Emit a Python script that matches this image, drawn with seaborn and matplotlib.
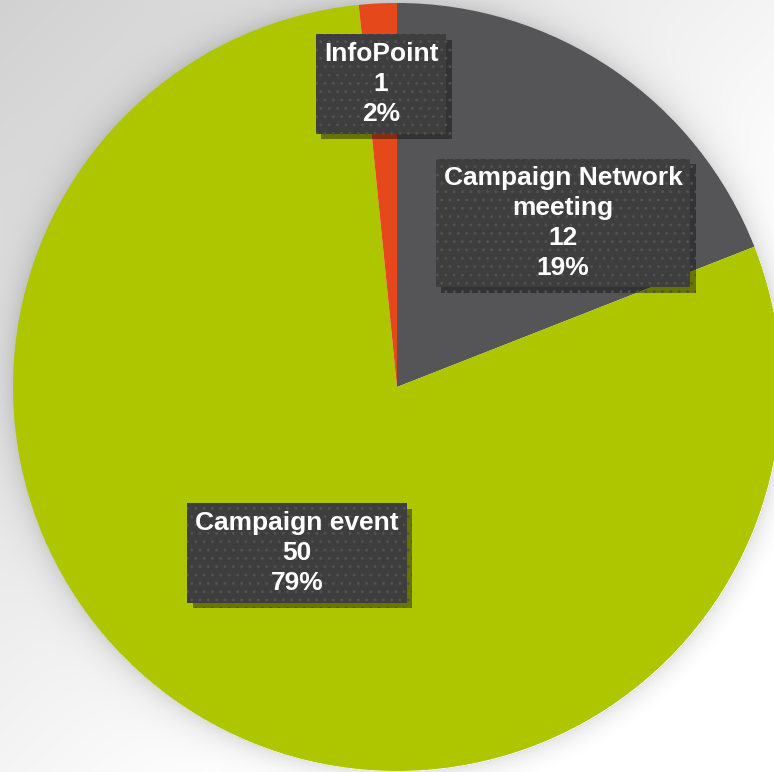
import numpy as np
import matplotlib
matplotlib.use("Agg")
import matplotlib.pyplot as plt
import matplotlib.patheffects as pe
import seaborn as sns

# data
categories = ["Campaign Network\nmeeting", "Campaign event", "InfoPoint"]
counts = [12, 50, 1]
slice_colors = ["#555557", "#aec600", "#e5481b"]
# label box centres as offsets (px) from the pie centre, y up
label_offsets = [(166, 164), (-100, -166), (-16, 303)]

W, H = 774, 772
cx, cy, R = 397, H - 387, 384

sns.set_theme(style="white")
plt.rcParams["font.family"] = ["Liberation Sans", "DejaVu Sans"]
plt.rcParams["hatch.linewidth"] = 0.9

fig = plt.figure(figsize=(W / 100, H / 100), dpi=100)
ax = fig.add_axes([0, 0, 1, 1])

# background: diagonal grey gradient + soft shadow round the pie
yy, xx = np.mgrid[0:H, 0:W]
t = (xx / W + yy / H) / 2
bg = 0.82 + 0.20 * np.clip(t * 1.4, 0, 1)
d = np.hypot(xx - cx, yy - 387) - R
shade = np.where(d > 0, np.exp(-d / 14.0), 0) * 0.12
bg = np.clip(bg - shade, 0, 1)
ax.imshow(np.dstack([bg, bg, bg]), extent=(0, W, 0, H), origin="upper", zorder=0)

total = sum(counts)
wedges, _ = ax.pie(
    counts,
    colors=slice_colors,
    startangle=90,
    counterclock=False,
    center=(cx, cy),
    radius=R,
    wedgeprops=dict(linewidth=0),
    frame=True,
)
for w in wedges:
    w.set_zorder(2)

for name, n, (dx, dy) in zip(categories, counts, label_offsets):
    pct = round(100 * n / total)
    txt = ax.text(
        cx + dx, cy + dy, f"{name}\n{n}\n{pct}%",
        ha="center", va="center", color="white", fontsize=19,
        fontweight="bold", linespacing=1.3, zorder=5,
        bbox=dict(boxstyle="square,pad=0.3", facecolor="#3e3e3e",
                  edgecolor="#515151", linewidth=0, hatch=".."),
    )
    txt.get_bbox_patch().set_path_effects(
        [pe.SimplePatchShadow(offset=(4, -4), shadow_rgbFace="black", alpha=0.4), pe.Normal()]
    )

ax.set_xlim(0, W)
ax.set_ylim(0, H)
ax.set_axis_off()
fig.savefig("out.png", dpi=100)
